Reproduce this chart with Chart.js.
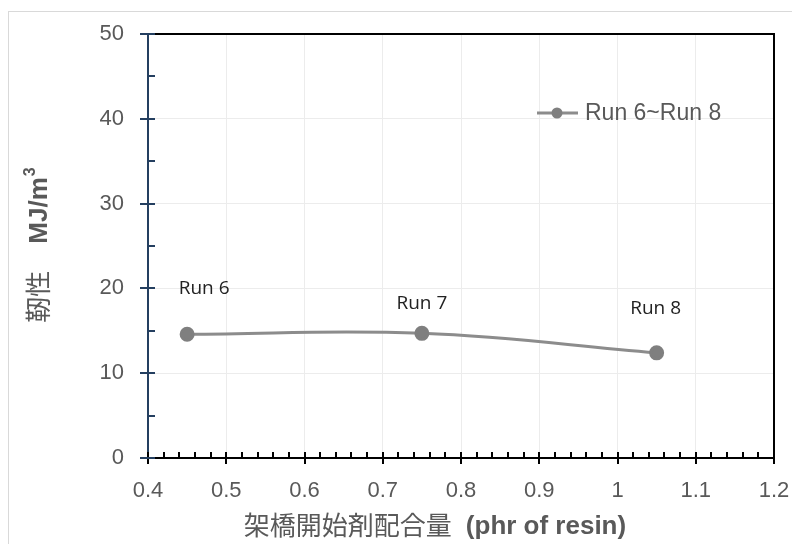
<!DOCTYPE html>
<html>
<head>
<meta charset="utf-8">
<script src="https://cdn.jsdelivr.net/npm/chart.js@4/dist/chart.umd.min.js"></script>
<style>
  html, body { margin: 0; padding: 0; background: #fff; }
  #wrap { width: 792px; height: 544px; }
</style>
</head>
<body>
<div id="wrap"><canvas id="chart" width="792" height="544"></canvas></div>
<script>
// Crosslinker loading vs toughness
var loading = [0.45, 0.75, 1.05];
var toughness = [14.6, 14.7, 12.4];
var runNames = ["Run 6", "Run 7", "Run 8"];
var seriesName = "Run 6~Run 8";

// Axis ranges / ticks
var xMin = 0.4, xMax = 1.2, xStep = 0.1, xMinorStep = 0.02;
var yMin = 0, yMax = 50, yStep = 10, yMinorStep = 5;

var xTitleCJK = "架橋開始剤配合量";
var xTitleLatin = "(phr of resin)";
var yTitleCJK = "靭性";
var yTitleUnit = "MJ/m";
var yTitleSup = "3";

var points = loading.map(function (x, i) { return { x: x, y: toughness[i] }; });

var lineGray = "#8c8c8c";
var dotGray = "#7f7f7f";
var textGray = "#595959";
var navy = "#243f60";
var latinBold = 'bold 26px "Liberation Sans", Arial, sans-serif';
var cjkFont = '26px "Noto Sans CJK JP", sans-serif';

// label nudges for Run 6..8 (pixels from the point)
var labelShift = [[17, -46], [0, -30], [-1, -44]];

var decorations = {
  id: "decorations",
  beforeDraw: function (chart) {
    var ctx = chart.ctx;
    ctx.save();
    ctx.fillStyle = "#fff";
    ctx.fillRect(0, 0, chart.width, chart.height);
    // outer frame
    ctx.strokeStyle = "#d9d9d9";
    ctx.lineWidth = 1;
    ctx.strokeRect(8.5, 11.5, chart.width + 20, chart.height + 20);
    ctx.restore();
  },
  afterDatasetsDraw: function (chart) {
    var ctx = chart.ctx;
    var a = chart.chartArea;
    var xs = chart.scales.x, ys = chart.scales.y;
    ctx.save();

    // top and right frame of plot area
    ctx.strokeStyle = "#000";
    ctx.lineWidth = 2;
    ctx.beginPath();
    ctx.moveTo(a.left, a.top);
    ctx.lineTo(a.right, a.top);
    ctx.lineTo(a.right, a.bottom);
    ctx.stroke();

    // x ticks
    ctx.strokeStyle = "#000";
    ctx.lineWidth = 2;
    var nMinor = Math.round((xMax - xMin) / xMinorStep);
    for (var i = 0; i <= nMinor; i++) {
      var v = xMin + i * xMinorStep;
      var px = Math.round(xs.getPixelForValue(v));
      var major = i % Math.round(xStep / xMinorStep) === 0;
      ctx.beginPath();
      ctx.moveTo(px, a.bottom - 6);
      ctx.lineTo(px, major ? a.bottom + 6 : a.bottom);
      ctx.stroke();
    }

    // y ticks
    ctx.strokeStyle = navy;
    var nY = Math.round((yMax - yMin) / yMinorStep);
    for (var j = 0; j <= nY; j++) {
      var vy = yMin + j * yMinorStep;
      var py = Math.round(ys.getPixelForValue(vy));
      var majorY = j % Math.round(yStep / yMinorStep) === 0;
      ctx.beginPath();
      ctx.moveTo(majorY ? a.left - 8 : a.left, py);
      ctx.lineTo(a.left + 7, py);
      ctx.stroke();
    }

    // point labels
    var meta = chart.getDatasetMeta(0);
    ctx.fillStyle = "#222";
    ctx.font = '19px "Open Sans", sans-serif';
    ctx.textAlign = "center";
    ctx.textBaseline = "middle";
    meta.data.forEach(function (el, k) {
      ctx.fillText(runNames[k], el.x + labelShift[k][0], el.y + labelShift[k][1]);
    });

    // legend
    var ly = 113;
    ctx.strokeStyle = lineGray;
    ctx.lineWidth = 3;
    ctx.beginPath();
    ctx.moveTo(537, ly);
    ctx.lineTo(578, ly);
    ctx.stroke();
    ctx.fillStyle = dotGray;
    ctx.beginPath();
    ctx.arc(557, ly, 5.5, 0, Math.PI * 2);
    ctx.fill();
    ctx.fillStyle = textGray;
    ctx.font = '23px "Liberation Sans", Arial, sans-serif';
    ctx.textAlign = "left";
    ctx.fillText(seriesName, 585, ly + 1);

    // x axis title
    ctx.textBaseline = "middle";
    ctx.font = cjkFont;
    var w1 = ctx.measureText(xTitleCJK).width;
    ctx.font = latinBold;
    var w2 = ctx.measureText(xTitleLatin).width;
    var gapX = 14;
    var startX = 435 - (w1 + gapX + w2) / 2;
    ctx.font = cjkFont;
    ctx.fillText(xTitleCJK, startX, 525);
    ctx.font = latinBold;
    ctx.fillText(xTitleLatin, startX + w1 + gapX, 527);

    // y axis title (rotated)
    ctx.translate(39, 245);
    ctx.rotate(-Math.PI / 2);
    ctx.font = cjkFont;
    var y1 = ctx.measureText(yTitleCJK).width;
    var gapY = 27;
    ctx.font = latinBold;
    var y2 = ctx.measureText(yTitleUnit).width;
    var supFont = 'bold 16px "Liberation Sans", Arial, sans-serif';
    ctx.font = supFont;
    var y3 = ctx.measureText(yTitleSup).width;
    var sx = -(y1 + gapY + y2 + y3 + 1) / 2;
    ctx.font = cjkFont;
    ctx.fillText(yTitleCJK, sx, -1);
    ctx.font = latinBold;
    ctx.fillText(yTitleUnit, sx + y1 + gapY, 1);
    ctx.font = supFont;
    ctx.fillText(yTitleSup, sx + y1 + gapY + y2 + 1, -8);

    ctx.restore();
  }
};

new Chart(document.getElementById("chart"), {
  type: "line",
  data: {
    datasets: [{
      label: seriesName,
      data: points,
      borderColor: lineGray,
      borderWidth: 3,
      backgroundColor: dotGray,
      pointBackgroundColor: dotGray,
      pointBorderColor: dotGray,
      pointRadius: 6,
      tension: 0.4,
      fill: false
    }]
  },
  options: {
    responsive: false,
    animation: false,
    layout: { padding: { top: 34, right: 18, left: 0, bottom: 0 } },
    plugins: {
      legend: { display: false },
      tooltip: { enabled: false }
    },
    scales: {
      x: {
        type: "linear",
        min: xMin,
        max: xMax,
        afterFit: function (s) {
          s.height = 86;
          s.paddingLeft = 0;
          s.paddingRight = 0;
        },
        grid: { color: "#ececec", drawTicks: false },
        border: { color: "#000", width: 2 },
        ticks: {
          stepSize: xStep,
          padding: 20,
          color: textGray,
          font: { family: '"Liberation Sans", Arial, sans-serif', size: 22 },
          callback: function (v) { return String(+v.toFixed(1)); }
        }
      },
      y: {
        min: yMin,
        max: yMax,
        afterFit: function (s) {
          s.width = 148;
          s.paddingTop = 0;
          s.paddingBottom = 0;
        },
        grid: { color: "#ececec", drawTicks: false },
        border: { color: navy, width: 2 },
        ticks: {
          stepSize: yStep,
          padding: 24,
          color: textGray,
          font: { family: '"Liberation Sans", Arial, sans-serif', size: 22 }
        }
      }
    }
  },
  plugins: [decorations]
});
</script>
</body>
</html>
